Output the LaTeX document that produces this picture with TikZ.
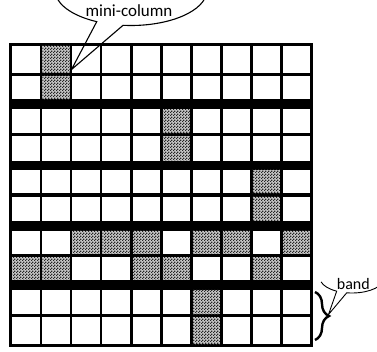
\documentclass[tikz,border=0pt]{standalone}
\usepackage{fontspec}
\setmainfont{Carlito}
\usetikzlibrary{patterns.meta,decorations.pathreplacing,calc}
\pgfdeclarepattern{
  name=finecheck, type=uncolored,
  bottom left={\pgfpoint{0pt}{0pt}}, top right={\pgfpoint{2.6pt}{2.6pt}},
  tile size={\pgfpoint{2.6pt}{2.6pt}},
  code={
    \pgfpathrectangle{\pgfpoint{0pt}{0pt}}{\pgfpoint{1.3pt}{1.3pt}}
    \pgfpathrectangle{\pgfpoint{1.3pt}{1.3pt}}{\pgfpoint{1.3pt}{1.3pt}}
    \pgfusepath{fill}
  }
}
\begin{document}
\begin{tikzpicture}[x=1pt,y=-1pt,
  cell/.style={fill=white},
  shadebase/.style={fill=black!22},
  shaded/.style={pattern=finecheck, pattern color=black!85},
  bubble/.style={draw=black, line width=1.1pt},
  label/.style={inner sep=0pt, anchor=base},
  bracestyle/.style={draw=black, line width=2.4pt, decorate,
    decoration={brace, amplitude=14pt}}]
\useasboundingbox (0,0) rectangle (377,352);
\clip (0,0) rectangle (377,352);
\fill[white] (0,0) rectangle (377,352);
% grid frame
\fill[black] (9,42.7) rectangle (313,347.3);
% cells
\foreach \ta/\tb in {46/72.7,76/99.3,109.3/133.3,136.3/160.7,170/193.3,196.7/220.7,230.7/254,257.3/280,290/314,317.3/344}{
  \foreach \c in {0,...,9}{
    \fill[cell] (12.3+30.05*\c,\ta) rectangle (39.5+30.05*\c,\tb);
  }
}
% shaded cells: column/top/bottom
\foreach \c/\ta/\tb in {1/46/72.7,1/76/99.3,
  5/109.3/133.3,5/136.3/160.7,
  8/170/193.3,8/196.7/220.7,
  2/230.7/254,3/230.7/254,4/230.7/254,6/230.7/254,7/230.7/254,9/230.7/254,
  0/257.3/280,1/257.3/280,4/257.3/280,5/257.3/280,8/257.3/280,
  6/290/314,6/317.3/344}{
  \fill[shadebase] (12.3+30.05*\c,\ta) rectangle (39.5+30.05*\c,\tb);
  \fill[shaded] (12.3+30.05*\c,\ta) rectangle (39.5+30.05*\c,\tb);
}
% mini-column callout
\coordinate (mcc) at (131,-10);
\coordinate (mctip) at (71.5,69.5);
\draw[bubble, line join=miter] (mcc) ++(172:76 and 35.5)
  arc[start angle=172, end angle=116.8, x radius=76, y radius=35.5]
  -- (mctip) -- ($(mcc)+(96:76 and 35.5)$)
  arc[start angle=96, end angle=8, x radius=76, y radius=35.5];
\node[label, font=\fontsize{17}{20}\selectfont] (mctext) at (129,16.7) {mini-column};
% band brace and callout
\coordinate (bracetop) at (315,292);
\coordinate (bracebot) at (315,340);
\draw[bracestyle] (bracetop) -- (bracebot);
\coordinate (bdc) at (352,278);
\coordinate (bdtip) at (328.5,314.5);
\draw[bubble, line width=0.9pt, line join=miter] (bdc) ++(165:32 and 15)
  arc[start angle=165, end angle=118.6, x radius=32, y radius=15]
  -- (bdtip) -- ($(bdc)+(99.5:32 and 15)$)
  arc[start angle=99.5, end angle=10, x radius=32, y radius=15];
\node[label, font=\fontsize{16}{19}\selectfont] (bandtext) at (353.3,289.3) {band};
\end{tikzpicture}
\end{document}
